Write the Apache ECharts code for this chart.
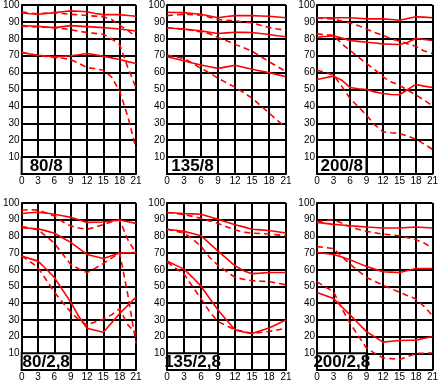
<!DOCTYPE html>
<html><head><meta charset="utf-8">
<script src="https://cdn.jsdelivr.net/npm/echarts@6/dist/echarts.min.js"></script>
<style>html,body{margin:0;padding:0;background:#fff}#c{width:441px;height:382px}</style>
</head><body><div id="c"></div>
<script>
const xs = [0, 1.5, 3, 4.5, 6, 7.5, 9, 10.5, 12, 13.5, 15, 16.5, 18, 19.5, 21];
const panelNames = ['80/8', '135/8', '200/8', '80/2,8', '135/2,8', '200/2,8'];
// label box extent in data units: [x0, y0, x1, y1]
const labelBox = [0, 0, 9, 10];

// 80/8
const p1TopSolid  = [95.3, 94.8, 94.5, 95, 95.5, 96, 96.5, 96.3, 96, 95, 94.3, 94.3, 94.3, 93.8, 93.3];
const p1TopDashed = [96, 95.2, 94.8, 95.2, 95.5, 95, 94.5, 94.2, 93.8, 93.4, 93, 91.5, 88, 85, 81];
const p1MidSolid  = [87.8, 87.6, 87.4, 87, 86.6, 87.2, 87.8, 87.5, 87.2, 86.9, 86.6, 86.2, 85.8, 85.2, 84.6];
const p1MidDashed = [87.4, 87.2, 87, 86.8, 86.5, 86, 85.4, 84.5, 83.7, 83.2, 82.7, 80, 76.5, 63, 51];
const p1BotSolid  = [71.7, 71, 70.3, 69.8, 69.3, 69.6, 70, 70.6, 71.3, 70.5, 69.7, 68.7, 67.7, 66.5, 65.4];
const p1BotDashed = [72, 71, 70, 69.5, 69, 68.5, 67.7, 65.5, 63, 62.3, 61.4, 57.5, 49, 34, 15];
// 135/8
const p2TopSolid  = [95.7, 95.6, 95.5, 95, 94.5, 93.5, 92.5, 93.2, 93.7, 93.7, 93.7, 93.5, 93.3, 92.9, 92.5];
const p2TopDashed = [93.7, 94.2, 94.5, 94.3, 94, 92.8, 91.4, 91, 90.6, 90, 89.4, 88, 86.7, 85.8, 85];
const p2MidSolid  = [86.5, 86.1, 85.7, 85.2, 84.7, 83.9, 83.1, 83.5, 83.9, 83.8, 83.7, 83.1, 82.5, 81.8, 81.2];
const p2MidDashed = [86.5, 86.1, 85.7, 85, 84, 83, 80.8, 78.8, 76.7, 74.7, 72.7, 69.6, 66.5, 63.5, 60.6];
const p2BotSolid  = [69.4, 68.2, 67, 65.7, 64.5, 63.5, 62.5, 63.4, 64.3, 63.2, 62, 61, 60, 58.8, 57.6];
const p2BotDashed = [70.4, 69.4, 68.4, 65.5, 62.5, 59.8, 56.7, 54, 51.4, 48.2, 44.9, 40.5, 36.1, 31.7, 27.3];
// 200/8
const p3TopSolid  = [92.5, 92.5, 92.5, 92.5, 92.5, 92.2, 91.8, 91.8, 91.8, 91.4, 91, 92, 93, 92.8, 92.5];
const p3TopDashed = [92.3, 92, 91.7, 90.5, 89.4, 87.8, 85.8, 83.7, 82.1, 80, 78.6, 77, 75.5, 72.8, 71.3];
const p3MidSolid  = [81, 81.4, 81.8, 80.4, 79, 78.5, 78, 77.5, 77, 76.8, 76.6, 78, 80.2, 79.6, 79];
const p3MidDashed = [82.9, 82.4, 82, 77, 73.2, 69.3, 65.4, 61.8, 57.5, 54.5, 52.5, 49.6, 46.7, 43.7, 40.2];
const p3BotSolid  = [55.9, 57, 57.9, 55.5, 51.2, 50.4, 50, 48.6, 47.6, 47, 46.9, 50, 53, 52, 51.2];
const p3BotDashed = [61.4, 60, 58.5, 52, 44.7, 39.8, 34.8, 29, 25, 24.4, 24, 22.4, 20.5, 17.7, 14.6];
// 80/2,8
const p4TopSolid  = [93.7, 94.2, 94.5, 94, 93.3, 92.4, 91.4, 90, 88.4, 88.5, 88.6, 89.2, 89.8, 88.8, 87.8];
const p4TopDashed = [95.7, 96, 95.7, 94, 92.2, 88.8, 86.3, 85, 84.3, 85.5, 87, 88.8, 89.8, 78, 70];
const p4MidSolid  = [85, 84.9, 84.6, 83.3, 81.9, 79.2, 76.4, 72.8, 69.2, 68, 66.8, 68.4, 70, 70.2, 70.4];
const p4MidDashed = [85.9, 85, 83.9, 80, 76, 69.5, 63.3, 60.5, 58.3, 61, 63.8, 67, 70.1, 45, 16];
const p4BotSolid  = [68.2, 66.7, 65.2, 60.5, 55.4, 48, 40.7, 32, 25, 23.8, 22.6, 28.2, 33.8, 38.7, 43.6];
const p4BotDashed = [68.2, 65, 61.3, 54, 46.6, 40.5, 34.8, 30, 27, 28.8, 30.5, 33, 36.7, 27, 22];
// 135/2,8
const p5TopSolid  = [94.3, 94, 93.7, 93.5, 93.3, 91.8, 90.2, 88.6, 87, 85.7, 84.3, 83.9, 83.5, 82.8, 82];
const p5TopDashed = [94.3, 93.7, 93.1, 92, 90.8, 89.3, 87.8, 85.8, 83.9, 82.5, 82, 81.7, 81.4, 80.9, 80.4];
const p5MidSolid  = [84.3, 83.7, 83, 81.7, 80.4, 75.8, 71.2, 66.8, 62.4, 59.5, 57.7, 58, 58.4, 58.4, 58.4];
const p5MidDashed = [84.3, 83.2, 82, 78.5, 74.1, 67.5, 62.7, 59, 55.5, 54.3, 53.5, 53.2, 53, 52, 51];
const p5BotSolid  = [65.3, 62.8, 60.4, 55.5, 50.2, 43, 35.9, 30, 24.1, 22.8, 21.8, 23.5, 25.1, 27.5, 30];
const p5BotDashed = [64.7, 61, 57.5, 50, 42.7, 35, 29, 26.5, 24.1, 23, 22, 22.5, 23.1, 24, 25.1];
// 200/2,8
const p6TopSolid  = [88.4, 87.8, 87.2, 86.8, 86.4, 86, 85.6, 85.3, 85, 85, 85, 85.3, 85.6, 85.3, 85];
const p6TopDashed = [88.8, 89.4, 90, 88, 85.6, 84.3, 83, 82.2, 81.4, 80.9, 80.4, 79.2, 78, 76, 73];
const p6MidSolid  = [70.4, 69.8, 69.2, 67.6, 66, 64, 62, 60.4, 58.8, 58.6, 58.4, 59.6, 60.8, 60.8, 60.8];
const p6MidDashed = [73.9, 73.3, 72.7, 68, 63.4, 59.4, 55.4, 53.1, 50.8, 48.7, 46.5, 44.5, 42.5, 38, 32.6];
const p6BotSolid  = [46.4, 44.6, 42.8, 37.9, 33, 28, 23, 19.8, 16.7, 17.2, 17.7, 17.8, 17.9, 19, 20];
const p6BotDashed = [52.8, 49.8, 46.9, 37, 28, 20.5, 13.2, 10, 7.3, 6.8, 6.3, 8, 9.9, 10, 10.2];

const panels = [
  [p1TopSolid, p1TopDashed, p1MidSolid, p1MidDashed, p1BotSolid, p1BotDashed],
  [p2TopSolid, p2TopDashed, p2MidSolid, p2MidDashed, p2BotSolid, p2BotDashed],
  [p3TopSolid, p3TopDashed, p3MidSolid, p3MidDashed, p3BotSolid, p3BotDashed],
  [p4TopSolid, p4TopDashed, p4MidSolid, p4MidDashed, p4BotSolid, p4BotDashed],
  [p5TopSolid, p5TopDashed, p5MidSolid, p5MidDashed, p5BotSolid, p5BotDashed],
  [p6TopSolid, p6TopDashed, p6MidSolid, p6MidDashed, p6BotSolid, p6BotDashed]
];

const lefts = [17, 167, 317];
const tops = [5, 203];
const grids = [], xAxes = [], yAxes = [], series = [];
const FONT = 'Liberation Sans, Arial, sans-serif';
for (let i = 0; i < 6; i++) {
  const col = i % 3, row = Math.floor(i / 3);
  grids.push({ left: lefts[col], top: tops[row], width: col === 2 ? 120 : 119, height: row === 0 ? 169 : 170 });
  xAxes.push({
    type: 'value', gridIndex: i, min: 0, max: 21, interval: 3,
    axisLine: { show: true, onZero: false, lineStyle: { color: '#000', width: 2 } },
    axisTick: { show: false },
    splitLine: { show: true, lineStyle: { color: '#000', width: 2 } },
    axisLabel: { color: '#000', fontSize: 10, fontFamily: FONT, margin: 2 }
  });
  yAxes.push({
    type: 'value', gridIndex: i, min: 0, max: 100, interval: 10,
    axisLine: { show: true, onZero: false, lineStyle: { color: '#000', width: 2 } },
    axisTick: { show: false },
    splitLine: { show: true, lineStyle: { color: '#000', width: 2 } },
    axisLabel: { color: '#000', fontSize: 10, fontFamily: FONT, margin: 2, showMinLabel: false }
  });
  const name = panelNames[i];
  series.push({
    type: 'custom', xAxisIndex: i, yAxisIndex: i, z: 4, silent: true, clip: false, animation: false,
    data: [labelBox],
    renderItem: function (params, api) {
      const p0 = api.coord([api.value(0), api.value(3)]);
      const p1 = api.coord([api.value(2), api.value(1)]);
      return {
        type: 'group',
        children: [
          { type: 'rect', shape: { x: p0[0], y: p0[1], width: p1[0] - p0[0], height: p1[1] - p0[1] },
            style: { fill: '#fff', stroke: '#000', lineWidth: 2 } },
          { type: 'text', x: (p0[0] + p1[0]) / 2, y: (p0[1] + p1[1]) / 2 + 1,
            style: { text: name, fill: '#000', fontSize: 17, fontWeight: 'bold', fontFamily: FONT, align: 'center', verticalAlign: 'middle' } }
        ]
      };
    }
  });
  panels[i].forEach((arr, k) => {
    series.push({
      type: 'line', xAxisIndex: i, yAxisIndex: i,
      data: xs.map((x, j) => [x, arr[j]]),
      showSymbol: false, silent: true, animation: false, z: 5,
      lineStyle: { color: '#ff0000', width: 1.6, type: k % 2 === 0 ? 'solid' : [6, 4] }
    });
  });
}

const chart = echarts.init(document.getElementById('c'), null, { renderer: 'canvas' });
chart.setOption({ animation: false, backgroundColor: '#fff', grid: grids, xAxis: xAxes, yAxis: yAxes, series: series });
</script></body></html>
